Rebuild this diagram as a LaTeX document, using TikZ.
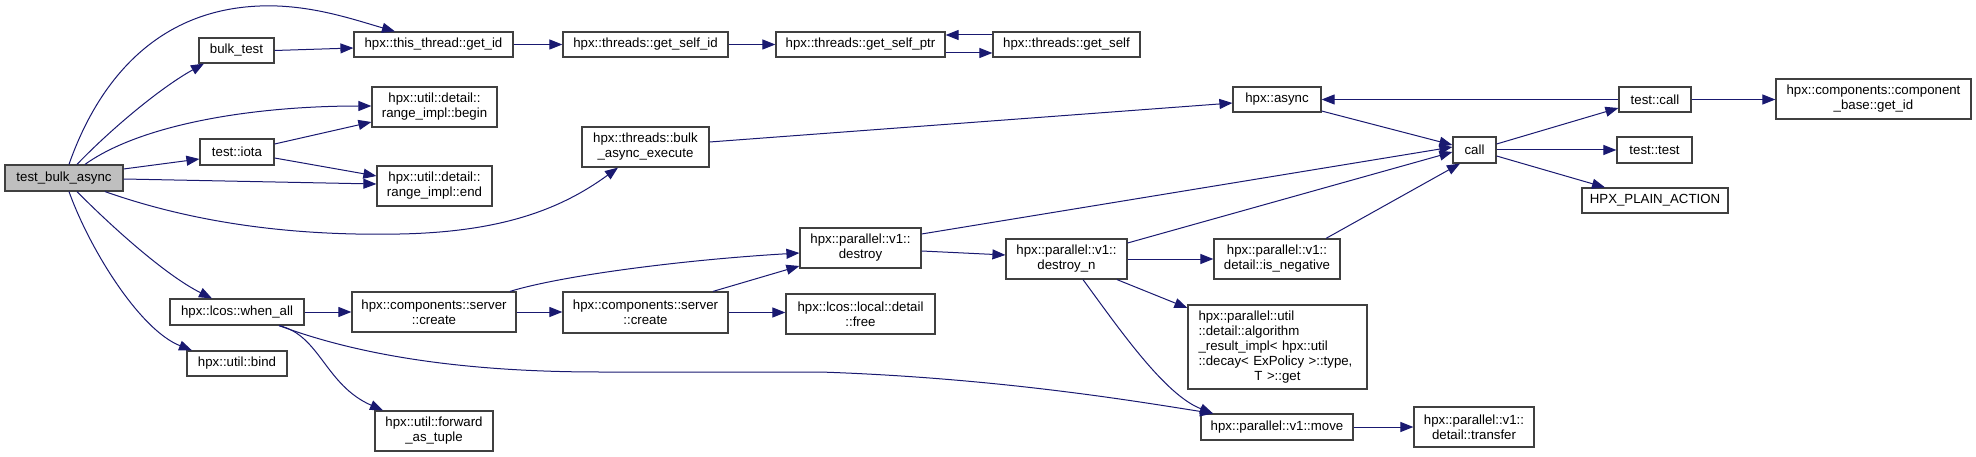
\documentclass[tikz,border=0pt]{standalone}
\usepackage{fontspec}
\setmainfont{Liberation Sans}
\usetikzlibrary{arrows.meta}
\definecolor{edgec}{HTML}{191970}
\definecolor{boxc}{HTML}{404040}
\definecolor{rootc}{HTML}{BFBFBF}
\begin{document}
\begin{tikzpicture}[x=1pt,y=-1pt,
  fn/.style={draw=boxc, line width=1.2pt, fill=white, inner sep=0pt, align=center,
    font=\fontsize{13.25}{15}\selectfont},
  arr/.style={draw=edgec, line width=1pt, -{Triangle[length=13pt,width=10pt]}}]
\useasboundingbox (0,0) rectangle (1976,457);
% nodes
\node[fn, fill=rootc, minimum width=118pt, minimum height=26pt] (tba) at (64,178) {test\_bulk\_async};
\node[fn, minimum width=75pt, minimum height=25pt] (bulk) at (236.5,50.5) {bulk\_test};
\node[fn, minimum width=159pt, minimum height=25pt] (getid) at (433.5,44.5) {hpx::this\_thread::get\_id};
\node[fn, minimum width=125pt, minimum height=40pt] (begin) at (434.5,107) {hpx::util::detail::\\range\_impl::begin};
\node[fn, minimum width=74pt, minimum height=26pt] (iota) at (237,152) {test::iota};
\node[fn, minimum width=115pt, minimum height=40pt] (end) at (434.5,186) {hpx::util::detail::\\range\_impl::end};
\node[fn, minimum width=134pt, minimum height=26pt] (whenall) at (237,312) {hpx::lcos::when\_all};
\node[fn, minimum width=100pt, minimum height=25pt] (bind) at (237,363.5) {hpx::util::bind};
\node[fn, minimum width=118pt, minimum height=40pt] (fwd) at (434,431) {hpx::util::forward\\\_as\_tuple};
\node[fn, minimum width=164pt, minimum height=40pt] (create1) at (434,312) {hpx::components::server\\::create};
\node[fn, minimum width=165pt, minimum height=25pt] (selfid) at (645.5,44.5) {hpx::threads::get\_self\_id};
\node[fn, minimum width=169pt, minimum height=25pt] (selfptr) at (860.5,44.5) {hpx::threads::get\_self\_ptr};
\node[fn, minimum width=127pt, minimum height=40pt] (bae) at (645.5,147) {hpx::threads::bulk\\\_async\_execute};
\node[fn, minimum width=121pt, minimum height=40pt] (destroy) at (860.5,248) {hpx::parallel::v1::\\destroy};
\node[fn, minimum width=165pt, minimum height=41pt] (create2) at (645.5,312.5) {hpx::components::server\\::create};
\node[fn, minimum width=149pt, minimum height=40pt] (free) at (860.5,314) {hpx::lcos::local::detail\\::free};
\node[fn, minimum width=147pt, minimum height=25pt] (getself) at (1066.5,44.5) {hpx::threads::get\_self};
\node[fn, minimum width=88pt, minimum height=25pt] (async) at (1277,99.5) {hpx::async};
\node[fn, minimum width=43pt, minimum height=26pt] (call) at (1474.5,150) {call};
\node[fn, minimum width=121pt, minimum height=40pt] (destroyn) at (1066.5,259) {hpx::parallel::v1::\\destroy\_n};
\node[fn, minimum width=126pt, minimum height=40pt] (isneg) at (1277,259) {hpx::parallel::v1::\\detail::is\_negative};
\node[fn, minimum width=179pt, minimum height=84pt, text width=158pt, align=left] (algo) at (1277.5,347)
  {hpx::parallel::util\\::detail::algorithm\\\_result\_impl< hpx::util\\::decay< ExPolicy >::type,\\\hspace*{\fill}T >::get\hspace*{\fill}\mbox{}};
\node[fn, minimum width=152pt, minimum height=26pt] (move) at (1277,427) {hpx::parallel::v1::move};
\node[fn, minimum width=120pt, minimum height=40pt] (transfer) at (1474,427) {hpx::parallel::v1::\\detail::transfer};
\node[fn, minimum width=72pt, minimum height=25pt] (testcall) at (1655,99.5) {test::call};
\node[fn, minimum width=195pt, minimum height=40pt] (compget) at (1873.5,99) {hpx::components::component\\\_base::get\_id};
\node[fn, minimum width=75pt, minimum height=26pt] (testtest) at (1654.5,150) {test::test};
\node[fn, minimum width=146pt, minimum height=25pt] (plain) at (1655,200.5) {HPX\_PLAIN\_ACTION};
% edges from test_bulk_async
\draw[arr] ([xshift=5pt]tba.north) .. controls (95,90) and (150,10) .. (260,6) .. controls (310,4) and (355,20) .. ([xshift=-38.5pt]getid.north);
\draw[arr] ([xshift=13pt]tba.north) .. controls (110,130) and (160,88) .. ([xshift=-32.5pt]bulk.south);
\draw[arr] ([xshift=21pt]tba.north) .. controls (140,125) and (250,106) .. ([yshift=1pt]begin.west);
\draw[arr] ([yshift=9pt]tba.east) -- ([yshift=-7pt]iota.west);
\draw[arr] ([yshift=-1pt]tba.east) -- ([yshift=2pt]end.west);
\draw[arr] ([xshift=41pt]tba.south) .. controls (200,225) and (300,236) .. (400,234) .. controls (500,232) and (560,210) .. ([xshift=-27.5pt]bae.south);
\draw[arr] ([xshift=13pt]tba.south) .. controls (110,225) and (165,275) .. ([xshift=-25pt]whenall.north);
\draw[arr] ([xshift=5pt]tba.south) .. controls (90,250) and (140,330) .. ([xshift=-45pt]bind.north);
% other edges
\draw[arr] (bulk.east) -- ([yshift=-3.5pt]getid.west);
\draw[arr] ([yshift=8pt]iota.east) -- ([yshift=-15pt]begin.west);
\draw[arr] ([yshift=-6pt]iota.east) -- ([yshift=10pt]end.west);
\draw[arr] (getid.east) -- (selfid.west);
\draw[arr] (selfid.east) -- (selfptr.west);
\draw[arr] ([yshift=-8.5pt]selfptr.east) -- ([yshift=-8.5pt]getself.west);
\draw[arr] ([yshift=9.5pt]getself.west) -- ([yshift=9.5pt]selfptr.east);
\draw[arr] ([yshift=5pt]bae.east) -- ([yshift=-3.5pt]async.west);
\draw[arr] ([yshift=-11.5pt]async.east) -- ([yshift=5pt]call.west);
\draw[arr] (testcall.west) -- (async.east);
\draw[arr] ([yshift=6pt]call.east) -- ([yshift=-8.5pt]testcall.west);
\draw[arr] (call.east) -- (testtest.west);
\draw[arr] ([yshift=-6pt]call.east) -- ([xshift=-50pt]plain.north);
\draw[arr] (testcall.east) -- (testcall.east -| compget.west);
\draw[arr] (whenall.east) -- (create1.west);
\draw[arr] ([xshift=42pt]whenall.south) .. controls (320,335) and (325,385) .. ([xshift=-51pt]fwd.north);
\draw[arr] ([xshift=42pt]whenall.south) .. controls (350,352) and (450,372) .. (600,372) -- (820,372) .. controls (1000,378) and (1140,402) .. ([xshift=-64pt]move.north);
\draw[arr] ([xshift=76pt]create1.north) .. controls (560,276) and (680,260) .. ([yshift=-5pt]destroy.west);
\draw[arr] (create1.east) -- (create1.east -| create2.west);
\draw[arr] ([xshift=67.5pt]create2.north) -- ([yshift=-18pt]destroy.west);
\draw[arr] (create2.east) -- (create2.east -| free.west);
\draw[arr] ([yshift=14pt]destroy.east) -- ([yshift=3pt]call.west);
\draw[arr] ([yshift=-3pt]destroy.east) -- ([yshift=4pt]destroyn.west);
\draw[arr] ([yshift=16pt]destroyn.east) -- ([yshift=-2pt]call.west);
\draw[arr] (destroyn.east) -- (isneg.west);
\draw[arr] ([xshift=50.5pt]destroyn.south) -- ([yshift=39pt]algo.west);
\draw[arr] ([xshift=16.5pt]destroyn.south) .. controls (1120,330) and (1165,395) .. ([xshift=-64pt]move.north);
\draw[arr] ([xshift=49pt]isneg.north) -- ([xshift=-14.5pt]call.south);
\draw[arr] (move.east) -- (transfer.west);
\end{tikzpicture}
\end{document}
